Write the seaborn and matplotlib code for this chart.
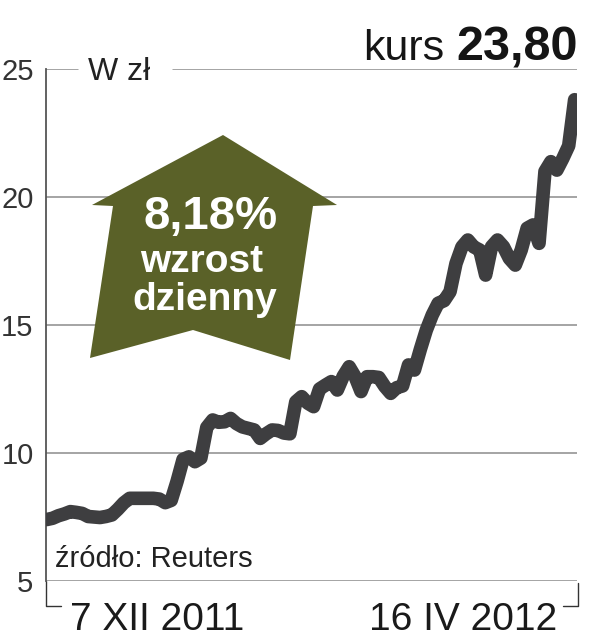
import pandas as pd
import numpy as np
import matplotlib
matplotlib.use('Agg')
import matplotlib.pyplot as plt
from matplotlib.patches import Polygon
import seaborn as sns


#Closing prices, trading days from 7 XII 2011 to 16 IV 2012
price = [7.40, 7.45, 7.55, 7.62, 7.71, 7.68, 7.64, 7.52, 7.50, 7.48,
         7.52, 7.58, 7.80, 8.05, 8.23, 8.23, 8.23, 8.23, 8.23, 8.20,
         8.06, 8.15, 8.90, 9.75, 9.85, 9.66, 9.80, 11.00, 11.29, 11.20,
         11.22, 11.35, 11.15, 11.02, 10.96, 10.90, 10.57, 10.75, 10.90, 10.88,
         10.78, 10.75, 12.00, 12.20, 11.95, 11.81, 12.50, 12.65, 12.79, 12.46,
         13.00, 13.37, 12.98, 12.40, 12.98, 12.98, 12.95, 12.60, 12.33, 12.55,
         12.62, 13.44, 13.24, 14.05, 14.80, 15.39, 15.85, 15.95, 16.30, 17.40,
         18.05, 18.32, 18.05, 17.93, 16.95, 18.06, 18.32, 18.06, 17.60, 17.34,
         17.93, 18.78, 18.91, 18.19, 21.00, 21.38, 21.05, 21.50, 22.00, 23.80]
day = list(range(len(price)))
yticks = [5, 10, 15, 20, 25]
date_labels = ['7 XII 2011', '16 IV 2012']
last_price = '23,80'
change = '8,18%'

df = pd.DataFrame({'day': day, 'price': price})

sns.set_style('white')
plt.rcParams['font.family'] = ['Liberation Sans', 'DejaVu Sans']

fig = plt.figure(figsize=(6.1, 6.4), dpi=100)
ax = fig.add_axes([46/610, 59/640, 531/610, 512/640])

#gridlines, top one broken for the unit label
grid_c = '#8c8c8c'
for v in yticks[:-1]:
    ax.axhline(v, color=grid_c, lw=1.1, zorder=0)
ax.axhline(25, xmin=0, xmax=0.06, color=grid_c, lw=1.1, zorder=0)
ax.axhline(25, xmin=0.239, xmax=1.0, color=grid_c, lw=1.1, zorder=0)

sns.lineplot(data=df, x='day', y='price', ax=ax, color='#3e3e40', lw=9.8,
             solid_capstyle='round', solid_joinstyle='round', zorder=3)

ax.set_xlim(-0.1, 89.4)
ax.set_ylim(5, 25)
ax.set_yticks(yticks)
ax.set_yticklabels([str(t) for t in yticks], fontsize=21, color='#333333')
ax.tick_params(axis='y', length=0, pad=9)
ax.set_xticks([])
ax.set_xlabel('')
ax.set_ylabel('')
for s in ['top', 'right', 'bottom']:
    ax.spines[s].set_visible(False)
ax.spines['left'].set_color('#555555')
ax.spines['left'].set_linewidth(1.3)

#date brackets under the chart
ax.plot([0, 0, 0.028], [0, -0.049, -0.049], transform=ax.transAxes,
        color='#333333', lw=1, clip_on=False)
ax.plot([1.002, 1.002, 0.974], [-0.004, -0.049, -0.049], transform=ax.transAxes,
        color='#333333', lw=1, clip_on=False)
ax.text(0.045, -0.0957, date_labels[0], transform=ax.transAxes, ha='left',
        va='baseline', fontsize=28, color='#1a1a1a')
ax.text(0.962, -0.0957, date_labels[1], transform=ax.transAxes, ha='right',
        va='baseline', fontsize=28, color='#1a1a1a')

ax.text(0.079, 0.9785, 'W zł', transform=ax.transAxes, ha='left',
        va='baseline', fontsize=23, color='#222222')
ax.text(0.017, 0.027, 'źródło: Reuters', transform=ax.transAxes, ha='left',
        va='baseline', fontsize=21, color='#222222')

#current price header
fig.text(578/610, 1 - 60/640, last_price, ha='right', va='baseline',
         fontsize=35, fontweight='bold', color='#151515')
fig.text(444/610, 1 - 60/640, 'kurs', ha='right', va='baseline',
         fontsize=31, color='#151515')

#olive arrow with the daily change
arrow_px = [(223, 135), (337, 205), (313, 206), (290, 360), (193, 330),
            (90, 358), (113, 206), (92, 205)]
arrow = Polygon([(x/610, 1 - y/640) for x, y in arrow_px], closed=True,
                transform=fig.transFigure, facecolor='#5a6128',
                edgecolor='none', zorder=5)
fig.patches.append(arrow)
fig.text(211/610, 1 - 229/640, change, ha='center', va='baseline',
         fontsize=34, fontweight='bold', color='white', zorder=6)
fig.text(202/610, 1 - 272/640, 'wzrost', ha='center', va='baseline',
         fontsize=28, fontweight='bold', color='white', zorder=6)
fig.text(205/610, 1 - 310/640, 'dzienny', ha='center', va='baseline',
         fontsize=28, fontweight='bold', color='white', zorder=6)

plt.savefig('out.png', dpi=100)
